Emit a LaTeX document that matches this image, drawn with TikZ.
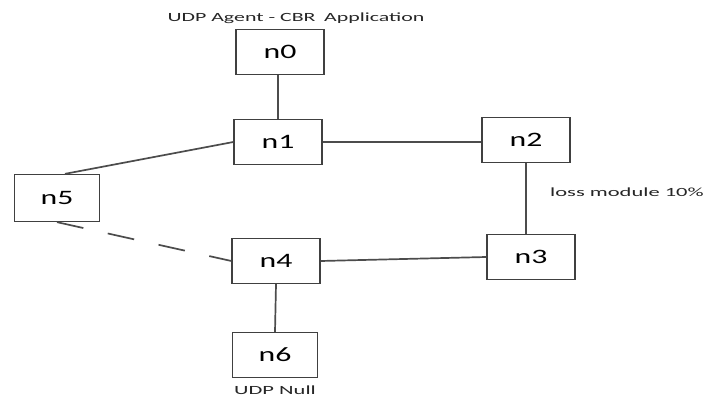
\documentclass[tikz,border=0pt]{standalone}
\usepackage{fontspec}
\setmainfont{Carlito}
\newcommand{\wide}[2]{\scalebox{#1}[1]{#2}}
\begin{document}
\begin{tikzpicture}[x=1pt,y=-1pt,
  nodebox/.style={draw=black!75,line width=1.3pt,fill=white,minimum width=88pt,minimum height=45pt,inner sep=0pt,font=\fontsize{20.5}{22}\selectfont},
  link/.style={draw=black!70,line width=1.7pt},
  lbl/.style={font=\fontsize{12.5}{14}\selectfont,text=black!85,inner sep=0pt}]
\useasboundingbox (0,0) rectangle (705,398);
\node[nodebox] (n0) at (280,52) {\wide{1.55}{n0}};
\node[nodebox] (n1) at (278,142) {\wide{1.55}{n1}};
\node[nodebox] (n2) at (526,140) {\wide{1.55}{n2}};
\node[nodebox] (n3) at (531,257) {\wide{1.55}{n3}};
\node[nodebox,minimum width=85pt,minimum height=47pt] (n5) at (57,198) {\wide{1.55}{n5}};
\node[nodebox] (n4) at (276,261) {\wide{1.55}{n4}};
\node[nodebox,minimum width=85pt] (n6) at (275,355) {\wide{1.55}{n6}};
\node[lbl] (t0) at (296,18) {\wide{1.75}{UDP Agent - CBR\, Application}};
\node[lbl,anchor=west] (t1) at (550,192) {\wide{1.8}{loss module 10\%}};
\node[lbl] (t2) at (275,390) {\wide{1.8}{UDP Null}};
\draw[link] (n0.south -| n1.north) -- (n1.north);
\draw[link] (n1.east) -- (n1.east -| n2.west);
\draw[link] (n1.west) -- ([xshift=8pt]n5.north);
\draw[link] (n2.south) -- (n2.south |- n3.north);
\draw[link] (n4.east) -- (n3.west);
\draw[link] (n4.south) -- (n6.north);
\draw[link,dash pattern=on 27pt off 25pt] (n5.south) -- (n4.west);
\end{tikzpicture}
\end{document}
